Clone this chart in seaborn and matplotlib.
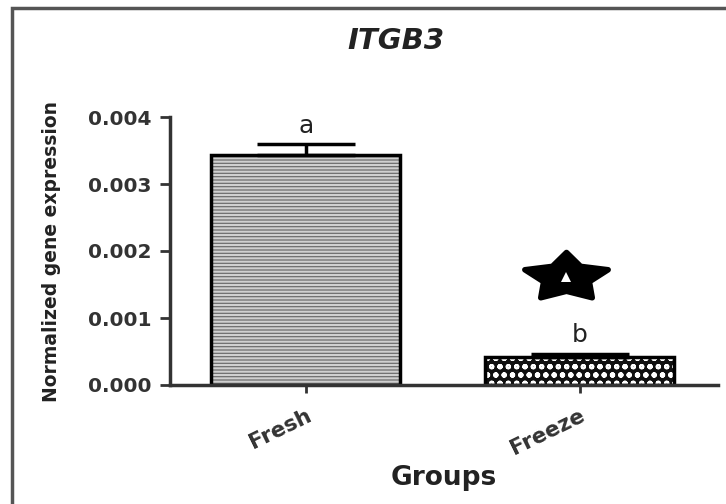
import matplotlib
matplotlib.use("Agg")
import matplotlib.pyplot as plt
import seaborn as sns
import pandas as pd
import numpy as np
from matplotlib.patches import Rectangle
from matplotlib.path import Path

groups = ["Fresh", "Freeze"]
means = [0.00344, 0.00042]
errors = [0.00015, 0.00005]
letters = ["a", "b"]
star_group_pos = 0.95
star_value = 0.00161

sns.set_style("ticks")
plt.rcParams['font.family'] = ['DejaVu Sans']
plt.rcParams['hatch.linewidth'] = 1.5

df = pd.DataFrame({"Groups": groups, "Expression": means})

fig = plt.figure(figsize=(7.26, 5.04), dpi=100)
ax = fig.add_axes([170 / 726, 119 / 504, 548 / 726, 268 / 504])

face_colors = ["#6e6e6e", "#111111"]
hatch_colors = ["#d0d0d0", "#ffffff"]
hatches = ["-----", "oo"]

sns.barplot(data=df, x="Groups", y="Expression", hue="Groups", palette=face_colors,
            width=0.69, legend=False, ax=ax, errorbar=None, linewidth=0)
for p, hc, h in zip(ax.patches, hatch_colors, hatches):
    p.set_edgecolor(hc)
    p.set_hatch(h)
    p.set_linewidth(0)

sns.barplot(data=df, x="Groups", y="Expression", fill=False, color="black",
            width=0.69, ax=ax, errorbar=None, linewidth=2.5)
for p in ax.patches[2:]:
    p.set_edgecolor("black")
    p.set_linewidth(2.5)

xpos = list(range(len(groups)))
ax.errorbar(xpos, means, yerr=[[0, 0], errors], fmt="none", ecolor="black",
            elinewidth=2.5, capsize=35, capthick=2.5, zorder=1)

for x, m, e, l in zip(xpos, means, errors, letters):
    ax.annotate(l, (x, m + e), xytext=(0, 5), textcoords="offset points",
                ha="center", va="bottom", fontsize=18, color="#222222")

# wide, fat five-pointed star marker (shape only, in marker units)
ang = np.pi / 2 + np.arange(10) * np.pi / 5
rad = np.where(np.arange(10) % 2 == 0, 1.0, 0.55)
verts = np.column_stack([1.75 * rad * np.cos(ang), rad * np.sin(ang)])
verts = np.vstack([verts, verts[:1]])
star = Path(verts, closed=True)
ax.plot([star_group_pos], [star_value], marker=star, markersize=60, color="black",
        markeredgewidth=4, markeredgecolor="black", zorder=5)
ax.plot([star_group_pos], [star_value], marker="^", markersize=7, color="white",
        markeredgewidth=0, zorder=6)

ax.set_xlim(-0.495, 1.505)
ax.set_ylim(0, 0.004)
ax.set_yticks([0, 0.001, 0.002, 0.003, 0.004])
ax.set_yticklabels(["0.000", "0.001", "0.002", "0.003", "0.004"], fontsize=14.5,
                   fontweight="bold", color="#333333")
ax.set_xticks(xpos)
ax.set_xticklabels(groups, rotation=26, ha="right", rotation_mode="anchor",
                   fontsize=15.5, fontweight="bold", color="#333333")
ax.tick_params(axis="both", width=2, color="#333333")
ax.tick_params(axis="x", length=6, pad=9)
ax.tick_params(axis="y", length=7, pad=6.5)
for s in ["top", "right"]:
    ax.spines[s].set_visible(False)
for s in ["left", "bottom"]:
    ax.spines[s].set_linewidth(2.5)
    ax.spines[s].set_color("#333333")

ax.set_xlabel("Groups", fontsize=19, fontweight="bold", color="#222222", labelpad=4)
ax.set_ylabel("Normalized gene expression", fontsize=13.5, fontweight="bold",
              color="#222222", labelpad=19)
fig.text(396 / 726, 1 - 41 / 504, "ITGB3", fontsize=21, fontweight="bold", style="italic",
         ha="center", va="center", color="#222222")

fig.patches.append(Rectangle((12 / 726, -0.1), 1.2, 1 - 8 / 504 + 0.1, transform=fig.transFigure,
                             fill=False, edgecolor="#555555", linewidth=2.5))

fig.savefig("out.png", dpi=100)
